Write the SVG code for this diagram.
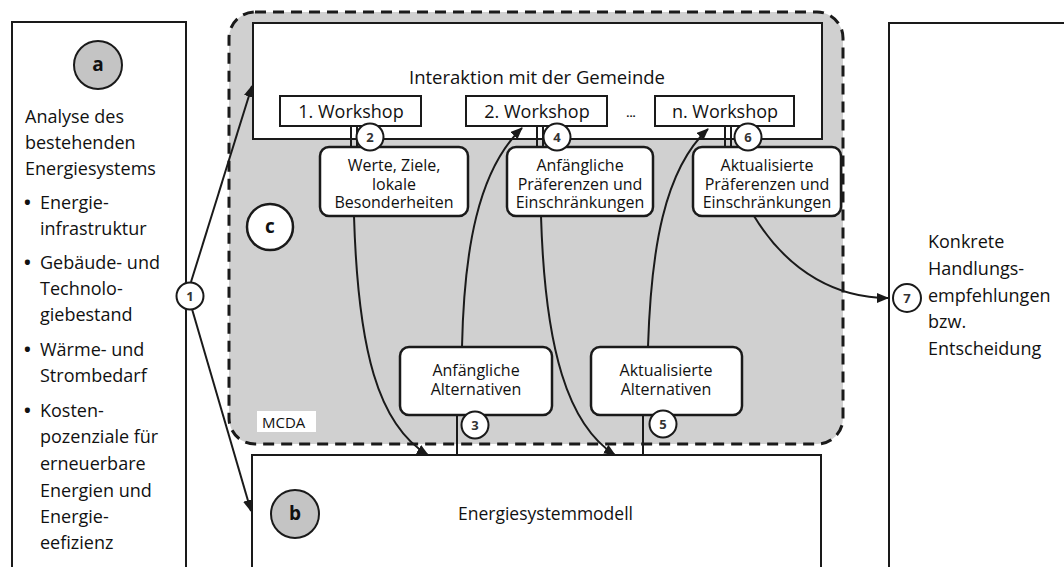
<svg xmlns="http://www.w3.org/2000/svg" width="1064" height="567" viewBox="0 0 1064 567">
<style>
text{font-family:"Open Sans","Noto Sans","DejaVu Sans",sans-serif;fill:#111}
.box{fill:#fff;stroke:#1a1a1a;stroke-width:2}
.rbox{fill:#fff;stroke:#1a1a1a;stroke-width:2.5}
.t18{font-size:18px}
.t16{font-size:16px;text-anchor:middle}
.num{fill:#fff;stroke:#1a1a1a;stroke-width:2}
.numt{font-size:13px;font-weight:bold;text-anchor:middle;fill:#333}
.let{font-size:19px;font-weight:bold;text-anchor:middle}
.bul{font-size:18px;font-weight:bold}
.ln{fill:none;stroke:#1a1a1a;stroke-width:2}
.arr{fill:none;stroke:#1a1a1a;stroke-width:2;marker-end:url(#ah)}
</style>
<defs>
<marker id="ah" markerUnits="userSpaceOnUse" markerWidth="12" markerHeight="10" refX="11" refY="5" orient="auto">
<path d="M0,0 L12,5 L0,10 z" fill="#1a1a1a"/>
</marker>
</defs>
<rect width="1064" height="567" fill="#fff"/>

<g id="node-a">
<rect class="box" x="12" y="22" width="174" height="600"/>
<circle cx="98" cy="65" r="24" fill="#c4c4c4" stroke="#1a1a1a" stroke-width="2"/>
<text class="let" x="98" y="71">a</text>
<text class="t18" x="25" y="123">Analyse des</text>
<text class="t18" x="25" y="149">bestehenden</text>
<text class="t18" x="25" y="175">Energiesystems</text>
<text class="bul" x="24" y="209">•</text>
<text class="t18" x="40" y="209">Energie-</text>
<text class="t18" x="40" y="235">infrastruktur</text>
<text class="bul" x="24" y="269">•</text>
<text class="t18" x="40" y="269">Gebäude- und</text>
<text class="t18" x="40" y="295">Technolo-</text>
<text class="t18" x="40" y="321">giebestand</text>
<text class="bul" x="24" y="356">•</text>
<text class="t18" x="40" y="356">Wärme- und</text>
<text class="t18" x="40" y="382">Strombedarf</text>
<text class="bul" x="24" y="417">•</text>
<text class="t18" x="40" y="417">Kosten-</text>
<text class="t18" x="40" y="443">pozenziale für</text>
<text class="t18" x="40" y="470">erneuerbare</text>
<text class="t18" x="40" y="497">Energien und</text>
<text class="t18" x="40" y="523">Energie-</text>
<text class="t18" x="40" y="549">eefizienz</text>
</g>

<g id="node-result">
<rect class="box" x="889" y="23" width="200" height="600"/>
<text class="t18" x="928" y="248">Konkrete</text>
<text class="t18" x="928" y="275">Handlungs-</text>
<text class="t18" x="928" y="302">empfehlungen</text>
<text class="t18" x="928" y="328">bzw.</text>
<text class="t18" x="928" y="355">Entscheidung</text>
</g>

<g id="node-c">
<rect x="229" y="12" width="614" height="432" rx="26" fill="#d0d0d0" stroke="#1a1a1a" stroke-width="3" stroke-dasharray="11 7"/>
<circle cx="270" cy="227" r="23" fill="#fff" stroke="#1a1a1a" stroke-width="2.5"/>
<text class="let" x="270" y="233">c</text>
<rect x="257" y="411" width="59" height="21" fill="#fff"/>
<text x="262" y="428" style="font-size:15px">MCDA</text>
</g>

<g id="node-interaktion">
<rect class="box" x="253" y="23" width="569" height="116"/>
<text class="t18" x="537" y="84" text-anchor="middle" style="font-size:18.5px">Interaktion mit der Gemeinde</text>
</g>

<g id="node-ws1">
<rect class="box" x="280" y="96" width="141" height="30"/>
<text class="t18" x="351" y="118" text-anchor="middle">1. Workshop</text>
</g>
<g id="node-ws2">
<rect class="box" x="466" y="96" width="141" height="30"/>
<text class="t18" x="537" y="118" text-anchor="middle">2. Workshop</text>
</g>
<g id="node-dots">
<text x="631" y="117" text-anchor="middle" style="font-size:11px;font-weight:bold">...</text>
</g>
<g id="node-wsn">
<rect class="box" x="655" y="96" width="139" height="30"/>
<text class="t18" x="725" y="118" text-anchor="middle">n. Workshop</text>
</g>

<g id="node-b">
<rect class="box" x="252" y="455" width="569" height="200"/>
<circle cx="295" cy="514" r="24" fill="#c4c4c4" stroke="#1a1a1a" stroke-width="2"/>
<text class="let" x="295" y="520">b</text>
<text class="t18" x="458" y="520" style="font-size:17.5px">Energiesystemmodell</text>
</g>

<g id="connectors">
<path class="arr" d="M191,282 L252,86"/>
<path class="arr" d="M192,309 L251,511"/>
<path class="ln" d="M351,126 V147 M357,126 V147"/>
<path class="ln" d="M537,126 V147 M543,126 V147"/>
<path class="ln" d="M725,126 V147 M731,126 V147"/>
<path class="ln" d="M457,415 V455"/>
<path class="ln" d="M643,415 V455"/>
<path class="arr" d="M354,216 C358,350 378,425 428,455"/>
<path class="arr" d="M462,347 C464,250 478,170 522,128"/>
<path class="arr" d="M541,216 C545,350 568,425 615,455"/>
<path class="arr" d="M648,347 C651,250 664,170 708,129"/>
<path class="arr" d="M754,216 C790,275 840,298 888,298"/>
</g>

<g id="node-werte">
<rect class="rbox" x="320" y="147" width="148" height="69" rx="9"/>
<text class="t16" x="394" y="171">Werte, Ziele,</text>
<text class="t16" x="394" y="189.5">lokale</text>
<text class="t16" x="394" y="208">Besonderheiten</text>
</g>
<g id="node-praef1">
<rect class="rbox" x="507" y="147" width="146" height="69" rx="9"/>
<text class="t16" x="580" y="171">Anfängliche</text>
<text class="t16" x="580" y="189.5">Präferenzen und</text>
<text class="t16" x="580" y="208">Einschränkungen</text>
</g>
<g id="node-praef2">
<rect class="rbox" x="693" y="147" width="148" height="69" rx="9"/>
<text class="t16" x="767" y="171">Aktualisierte</text>
<text class="t16" x="767" y="189.5">Präferenzen und</text>
<text class="t16" x="767" y="208">Einschränkungen</text>
</g>
<g id="node-alt1">
<rect class="rbox" x="400" y="347" width="152" height="68" rx="9"/>
<text class="t16" x="476" y="376">Anfängliche</text>
<text class="t16" x="476" y="395">Alternativen</text>
</g>
<g id="node-alt2">
<rect class="rbox" x="591" y="347" width="151" height="68" rx="9"/>
<text class="t16" x="666" y="376">Aktualisierte</text>
<text class="t16" x="666" y="395">Alternativen</text>
</g>

<g id="labels">
<g id="n1"><circle class="num" cx="190" cy="296" r="13.5"/><text class="numt" x="190" y="301">1</text></g>
<g id="n2"><circle class="num" cx="370" cy="137" r="13.5"/><text class="numt" x="370" y="142">2</text></g>
<g id="n3"><circle class="num" cx="475" cy="425" r="13.5"/><text class="numt" x="475" y="430">3</text></g>
<g id="n4"><circle class="num" cx="557" cy="137" r="13.5"/><text class="numt" x="557" y="142">4</text></g>
<g id="n5"><circle class="num" cx="663" cy="424" r="13.5"/><text class="numt" x="663" y="429">5</text></g>
<g id="n6"><circle class="num" cx="748" cy="137" r="13.5"/><text class="numt" x="748" y="142">6</text></g>
<g id="n7"><circle class="num" cx="907" cy="298" r="14"/><text class="numt" x="907" y="303">7</text></g>
</g>
</svg>
